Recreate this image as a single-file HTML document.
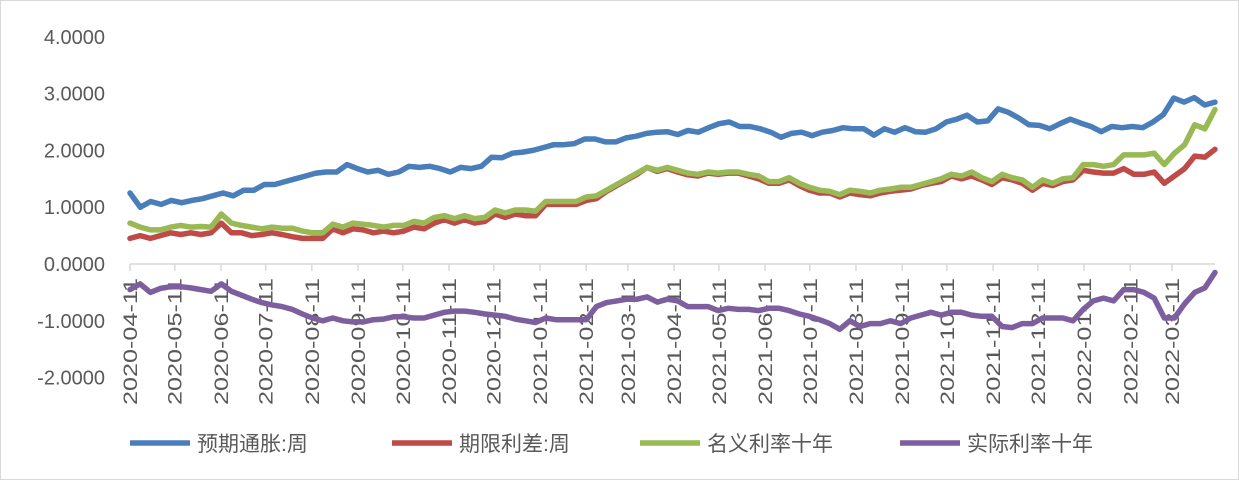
<!DOCTYPE html>
<html><head><meta charset="utf-8"><style>
body{margin:0;background:#fff;}
svg{display:block;font-family:"Liberation Sans","Noto Sans CJK SC",sans-serif;}
</style></head><body>
<svg id="chart" width="1239" height="480" viewBox="0 0 1239 480" xmlns="http://www.w3.org/2000/svg">
<rect x="0.5" y="0.5" width="1238" height="479" fill="#fff" stroke="#d9d9d9"/>
<g id="yaxis"></g>
<g id="xaxis"></g>
<g id="series"></g>
<g id="legend"></g>
</svg>
<script>
const yTicks=[4,3,2,1,0,-1,-2];
const yTickLabels=["4.0000","3.0000","2.0000","1.0000","0.0000","-1.0000","-2.0000"];
const monthLabels=["2020-04-11","2020-05-11","2020-06-11","2020-07-11","2020-08-11","2020-09-11","2020-10-11","2020-11-11","2020-12-11","2021-01-11","2021-02-11","2021-03-11","2021-04-11","2021-05-11","2021-06-11","2021-07-11","2021-08-11","2021-09-11","2021-10-11","2021-11-11","2021-12-11","2022-01-11","2022-02-11","2022-03-11"];
const seriesNames=["预期通胀:周","期限利差:周","名义利率十年","实际利率十年"];
const inflation=[1.25,1.0,1.1,1.05,1.12,1.08,1.12,1.15,1.2,1.25,1.2,1.3,1.3,1.4,1.4,1.45,1.5,1.55,1.6,1.62,1.62,1.75,1.68,1.62,1.65,1.58,1.62,1.72,1.7,1.72,1.68,1.62,1.7,1.68,1.72,1.88,1.87,1.95,1.97,2.0,2.05,2.1,2.1,2.12,2.2,2.2,2.15,2.15,2.22,2.25,2.3,2.32,2.33,2.28,2.35,2.32,2.4,2.47,2.5,2.42,2.42,2.38,2.32,2.23,2.3,2.32,2.26,2.32,2.35,2.4,2.38,2.38,2.27,2.38,2.32,2.4,2.33,2.32,2.38,2.5,2.55,2.62,2.5,2.52,2.73,2.67,2.57,2.45,2.44,2.38,2.47,2.55,2.48,2.42,2.33,2.42,2.4,2.42,2.4,2.5,2.63,2.92,2.85,2.93,2.8,2.85];
const termSpread=[0.45,0.5,0.45,0.5,0.55,0.52,0.55,0.52,0.55,0.72,0.55,0.55,0.5,0.52,0.55,0.52,0.48,0.45,0.45,0.45,0.62,0.55,0.62,0.6,0.55,0.58,0.55,0.58,0.65,0.62,0.72,0.78,0.72,0.78,0.72,0.75,0.88,0.82,0.88,0.85,0.85,1.05,1.05,1.05,1.05,1.12,1.15,1.28,1.38,1.48,1.58,1.7,1.63,1.68,1.62,1.57,1.55,1.6,1.58,1.6,1.6,1.55,1.5,1.42,1.42,1.48,1.38,1.3,1.25,1.25,1.18,1.25,1.22,1.2,1.25,1.28,1.3,1.32,1.38,1.42,1.45,1.55,1.5,1.55,1.48,1.4,1.52,1.48,1.42,1.3,1.42,1.38,1.45,1.48,1.65,1.62,1.6,1.6,1.68,1.58,1.58,1.62,1.42,1.55,1.68,1.9,1.88,2.02];
const nominal10y=[0.72,0.65,0.6,0.6,0.65,0.68,0.65,0.66,0.65,0.88,0.72,0.68,0.65,0.62,0.65,0.63,0.63,0.58,0.55,0.55,0.7,0.65,0.72,0.7,0.68,0.65,0.68,0.68,0.75,0.72,0.82,0.85,0.8,0.85,0.8,0.82,0.95,0.9,0.95,0.95,0.93,1.1,1.1,1.1,1.1,1.18,1.2,1.3,1.4,1.5,1.6,1.7,1.65,1.7,1.65,1.6,1.58,1.62,1.6,1.62,1.62,1.58,1.55,1.45,1.45,1.52,1.42,1.35,1.3,1.28,1.22,1.3,1.28,1.25,1.3,1.32,1.35,1.35,1.4,1.45,1.5,1.58,1.55,1.62,1.52,1.45,1.58,1.52,1.48,1.35,1.48,1.42,1.5,1.52,1.75,1.75,1.72,1.75,1.92,1.92,1.92,1.95,1.75,1.95,2.1,2.45,2.38,2.72];
const real10y=[-0.45,-0.35,-0.5,-0.43,-0.4,-0.4,-0.42,-0.45,-0.48,-0.35,-0.48,-0.55,-0.62,-0.68,-0.72,-0.75,-0.8,-0.88,-0.95,-1.0,-0.95,-1.0,-1.02,-1.02,-0.98,-0.97,-0.93,-0.93,-0.95,-0.95,-0.9,-0.85,-0.83,-0.83,-0.85,-0.88,-0.9,-0.92,-0.97,-1.0,-1.03,-0.95,-0.98,-0.98,-0.98,-0.98,-0.75,-0.68,-0.65,-0.62,-0.62,-0.58,-0.67,-0.62,-0.65,-0.75,-0.75,-0.75,-0.82,-0.78,-0.8,-0.8,-0.82,-0.78,-0.78,-0.82,-0.88,-0.92,-0.98,-1.05,-1.15,-1.0,-1.1,-1.05,-1.05,-1.0,-1.05,-0.95,-0.9,-0.85,-0.9,-0.85,-0.85,-0.9,-0.92,-0.92,-1.1,-1.12,-1.05,-1.05,-0.95,-0.95,-0.95,-1.0,-0.8,-0.65,-0.6,-0.65,-0.45,-0.45,-0.5,-0.6,-0.95,-0.95,-0.7,-0.5,-0.42,-0.15];
const colors=["#4a7ebb","#be4b48","#98b954","#7d5fa0"];

const NS="http://www.w3.org/2000/svg";
const X0=130,X1=1215,Y0=264,PX=56.8;
const D0=Date.UTC(2020,3,11), PXDAY=(1172-130)/699;
function y(v){return Y0-v*PX;}
function xIdx(i,n){return X0+(X1-X0)*i/(n-1);}
function xDate(s){const p=s.split('-').map(Number);return X0+(Date.UTC(p[0],p[1]-1,p[2])-D0)/86400000*PXDAY;}
function mk(tag,attrs,parent){const e=document.createElementNS(NS,tag);for(const k in attrs)e.setAttribute(k,attrs[k]);parent.appendChild(e);return e;}

const ya=document.getElementById('yaxis');
yTicks.forEach((t,i)=>{
  const tx=mk('text',{x:105,y:y(t)+7,'text-anchor':'end','font-size':20,fill:'#595959'},ya);
  
  
  tx.textContent=yTickLabels[i];
});
const xa=document.getElementById('xaxis');
const axl=mk('line',{x1:X0,x2:X1,y1:Y0,y2:Y0,stroke:'#d9d9d9','stroke-width':1.5},xa);


monthLabels.forEach((m,i)=>{
  const xx=xDate(m);
  const tk=mk('line',{x1:xx,x2:xx,y1:Y0,y2:Y0+7,stroke:'#d9d9d9','stroke-width':1.5},xa);
  
  
  const tx=mk('text',{x:0,y:0,'text-anchor':'end','font-size':19,fill:'#595959',textLength:127,lengthAdjust:'spacingAndGlyphs',transform:`translate(${xx+7},${Y0+14}) rotate(-90)`},xa);
  
  
  tx.textContent=m;
});
const sg=document.getElementById('series');
[inflation,termSpread,nominal10y,real10y].forEach((arr,s)=>{
  const pts=arr.map((v,i)=>xIdx(i,arr.length).toFixed(1)+','+y(v).toFixed(1)).join(' ');
  const pl=mk('polyline',{points:pts,fill:'none',stroke:colors[s],'stroke-width':5.5,'stroke-linejoin':'round','stroke-linecap':'round'},sg);
  
  
});
const lg=document.getElementById('legend');
const lx=[130,392,640,900];
seriesNames.forEach((n,i)=>{
  const l=mk('line',{x1:lx[i],x2:lx[i]+60,y1:443,y2:443,stroke:colors[i],'stroke-width':5.5},lg);
  
  
  const t=mk('text',{x:lx[i]+67,y:451,'font-size':21,fill:'#595959'},lg);
  
  
  t.textContent=n;
});
</script>
</body></html>
